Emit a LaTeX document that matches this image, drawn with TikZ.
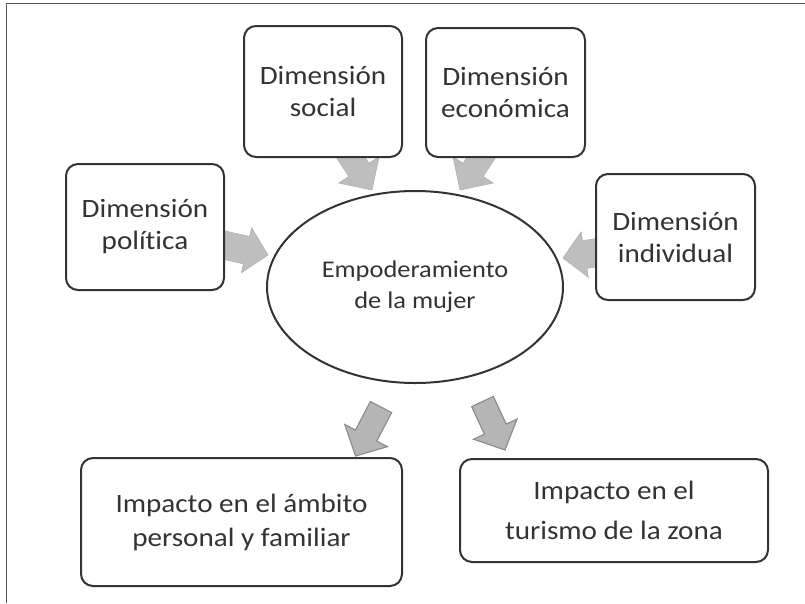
\documentclass[tikz,border=0pt]{standalone}
\usepackage{fontspec}
\setmainfont{Carlito}[FakeStretch=1.1,Ligatures=NoCommon]
\usetikzlibrary{calc,shapes.geometric}
\definecolor{boxline}{HTML}{333333}
\definecolor{txt}{HTML}{333333}
\definecolor{arrfill}{HTML}{BEBEBE}
\definecolor{arrline}{HTML}{B0B0B0}
\definecolor{arrfillb}{HTML}{B5B5B5}
\definecolor{arrlineb}{HTML}{8A8A8A}
\definecolor{framecol}{HTML}{555555}
\newcommand\blockarrow[6]{%
  \coordinate (ba-h) at ($(#3)!#6!(#2)$);
  \path[#1] ($(#2)!#4!90:(#3)$) -- ($(ba-h)!#4!90:(#3)$) -- ($(ba-h)!#5!90:(#3)$) -- (#3)
    -- ($(ba-h)!#5!-90:(#3)$) -- ($(ba-h)!#4!-90:(#3)$) -- ($(#2)!#4!-90:(#3)$) -- cycle;}
\tikzset{
  dimbox/.style={draw=boxline, line width=2pt, rounded corners=12pt, align=center,
    text=txt, font=\fontsize{26.5}{32}\selectfont, inner sep=0pt},
  ovalnode/.style={ellipse, draw=boxline, line width=2pt, align=center, text=txt,
    font=\fontsize{24}{31}\selectfont, inner sep=0pt},
  toparrow/.style={fill=arrfill, draw=arrline, line width=0.6pt},
  botarrow/.style={fill=arrfillb, draw=arrlineb, line width=1.1pt}
}
\begin{document}
\begin{tikzpicture}[x=1pt,y=-1pt]
\useasboundingbox (0,0) rectangle (805,603);
\draw[framecol, line width=1pt] (6,603) -- (6,3) -- (805,3);
% arrow start/tip coordinates
\coordinate (sS) at (342,144);
\coordinate (sT) at (372,190);
\coordinate (eS) at (490,144);
\coordinate (eT) at (460,190);
\coordinate (pS) at (206,241);
\coordinate (pT) at (268,255);
\coordinate (iS) at (626,248);
\coordinate (iT) at (563,258);
\coordinate (lS) at (381,407);
\coordinate (lT) at (355.5,456);
\coordinate (rS) at (482.5,401.5);
\coordinate (rT) at (505,450);
\blockarrow{toparrow}{sS}{sT}{12pt}{24pt}{24pt}
\blockarrow{toparrow}{eS}{eT}{12pt}{24pt}{24pt}
\blockarrow{toparrow}{pS}{pT}{14pt}{23pt}{22pt}
\blockarrow{toparrow}{iS}{iT}{14pt}{23pt}{22pt}
\blockarrow{botarrow}{lS}{lT}{12pt}{24pt}{23pt}
\blockarrow{botarrow}{rS}{rT}{12pt}{24pt}{23pt}
% nodes
\node[dimbox, fill=white, minimum width=158pt, minimum height=131pt] (soc) at (323,91.5) {Dimensión\\social};
\node[dimbox, fill=white, minimum width=159pt, minimum height=129pt] (eco) at (505.5,92.5) {Dimensión\\económica};
\node[dimbox, fill=white, minimum width=158pt, minimum height=126pt] (pol) at (145,227) {Dimensión\\política};
\node[dimbox, fill=white, minimum width=159pt, minimum height=126pt] (ind) at (675.5,237) {Dimensión\\individual};
\node[ovalnode, minimum width=296pt, minimum height=192pt] (emp) at (415,287) {Empoderamiento\\de la mujer};
\node[dimbox, fill=white, minimum width=321pt, minimum height=128pt, font=\fontsize{26.5}{34}\selectfont] (per) at (241.5,522) {Impacto en el ámbito\\personal y familiar};
\node[dimbox, fill=white, minimum width=308pt, minimum height=103pt, font=\fontsize{26.5}{40}\selectfont] (tur) at (614,510.5) {Impacto en el\\turismo de la zona};
\end{tikzpicture}
\end{document}
